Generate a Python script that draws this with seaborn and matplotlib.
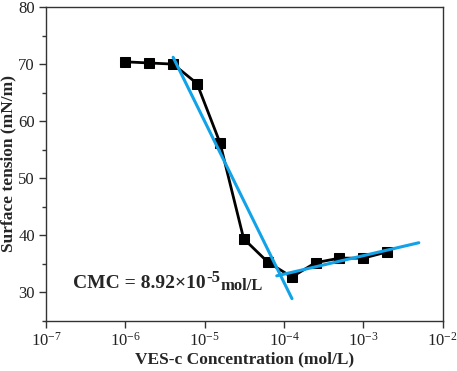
import numpy as np
import pandas as pd
import matplotlib
matplotlib.use("Agg")
import matplotlib.pyplot as plt
from matplotlib.ticker import LogLocator, LogFormatterMathtext, MultipleLocator
import seaborn as sns

sns.set_style("ticks")
plt.rcParams["font.family"] = ["Liberation Serif", "DejaVu Serif"]
plt.rcParams["mathtext.fontset"] = "custom"
plt.rcParams["mathtext.rm"] = "Liberation Serif"
plt.rcParams["mathtext.bf"] = "Liberation Serif:bold"

# measured data
conc = [1e-6, 2e-6, 4e-6, 8e-6, 1.56e-5, 3.1e-5, 6.25e-5, 1.25e-4, 2.5e-4, 5e-4, 1e-3, 2e-3]
tension = [70.4, 70.2, 70.0, 66.6, 56.2, 39.4, 35.3, 32.7, 35.2, 36.0, 36.0, 37.1]

# fitted lines (end points)
fit1_x = [4e-6, 1.26e-4]
fit1_y = [71.2, 28.9]
fit2_x = [8.1e-5, 5e-3]
fit2_y = [32.9, 38.7]

df = pd.DataFrame({"conc": conc, "tension": tension})

W, H = 457, 371
fig = plt.figure(figsize=(W / 100, H / 100), dpi=100)
ax = fig.add_axes([0.1007, 0.135, 0.868, 0.846])

sns.lineplot(data=df, x="conc", y="tension", ax=ax, color="black", lw=2,
             marker="s", markersize=7, markeredgecolor="black", zorder=3)
ax.plot(fit1_x, fit1_y, color="#12A2E8", lw=2.2, zorder=4)
ax.plot(fit2_x, fit2_y, color="#12A2E8", lw=2.2, zorder=4)

ax.set_xscale("log")
ax.set_xlim(1e-7, 1e-2)
ax.set_ylim(25, 80)
ax.xaxis.set_major_locator(LogLocator(base=10, numticks=10))
ax.xaxis.set_major_formatter(LogFormatterMathtext())
ax.xaxis.set_minor_locator(plt.NullLocator())
ax.yaxis.set_major_locator(MultipleLocator(10))
ax.yaxis.set_minor_locator(MultipleLocator(5))

for s in ax.spines.values():
    s.set_color("#333333")
    s.set_linewidth(1.0)
ax.tick_params(which="major", direction="out", length=5, width=1, labelsize=12,
               color="#333333", labelcolor="#222222", pad=3)
ax.tick_params(which="minor", direction="out", length=3, width=1, color="#333333")

ax.set_xlabel("VES-c Concentration (mol/L)", fontsize=12.5, fontweight="bold", labelpad=1)
ax.set_ylabel("Surface tension (mN/m)", fontsize=12.5, fontweight="bold")
ax.yaxis.set_label_coords(-0.075, 0.5)

# CMC annotation built from three pieces (main, superscript, unit)
t1 = ax.text(2.2e-7, 30.8, "CMC = 8.92×10", fontsize=14, fontweight="bold",
             va="baseline", ha="left")
fig.canvas.draw()
r = fig.canvas.get_renderer()
bb = t1.get_window_extent(r)
base_y = ax.transData.transform((2.2e-7, 30.8))[1]
t2 = fig.text((bb.x1 + 0.5) / W, (base_y + 6) / H, "-5", fontsize=12,
              fontweight="bold", va="baseline", ha="left")
bb2 = t2.get_window_extent(r)
fig.text((bb2.x1 + 0.5) / W, (base_y - 2.5) / H, "mol/L", fontsize=12,
         fontweight="bold", va="baseline", ha="left")

fig.savefig("out.png", dpi=100)
